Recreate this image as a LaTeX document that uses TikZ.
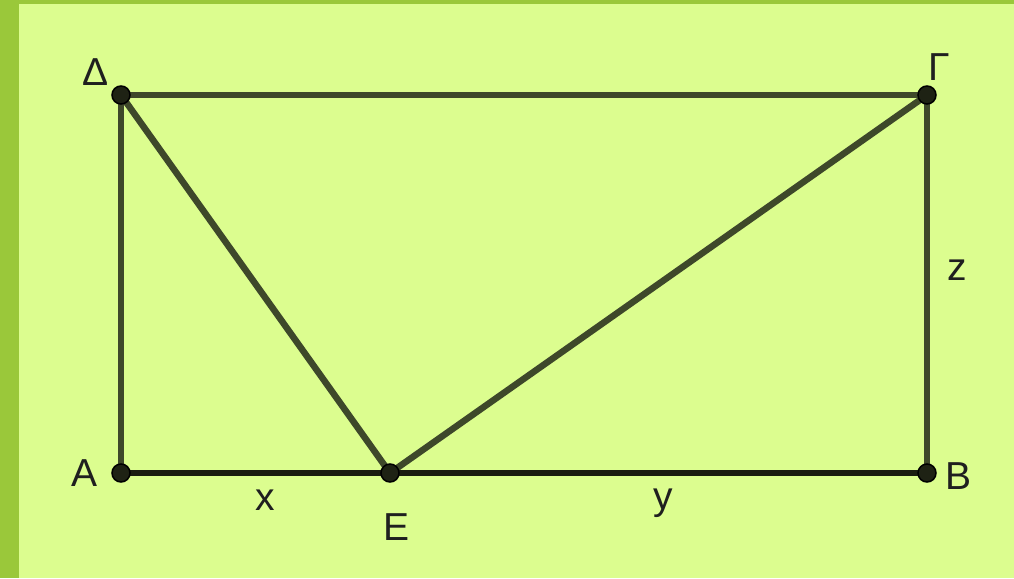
\documentclass[tikz,border=0pt]{standalone}
\usepackage{fontspec}
\setmainfont{Liberation Sans}
\definecolor{bgc}{RGB}{220,253,143}
\definecolor{frame}{RGB}{154,200,58}
\definecolor{seg}{RGB}{62,72,42}
\definecolor{base}{RGB}{26,28,16}
\definecolor{ptc}{RGB}{30,34,20}
\begin{document}
\begin{tikzpicture}[x=1pt,y=-1pt,
  seg/.style={draw=seg,line width=6.5pt},
  baseseg/.style={draw=base,line width=6.5pt},
  pt/.style={circle,fill=ptc,draw=black,line width=1.5pt,minimum size=18pt,inner sep=0pt},
  lab/.style={font=\fontsize{39}{41}\selectfont,text=black!88,inner sep=0pt}]
\useasboundingbox (0,0) rectangle (1014,578);
\fill[bgc] (0,0) rectangle (1014,578);
\fill[frame] (0,0) rectangle (19,578);
\fill[frame] (0,0) rectangle (1014,4);
\coordinate (A) at (121,473);
\coordinate (E) at (390,473);
\coordinate (B) at (927,473);
\coordinate (D) at (121,95);
\coordinate (G) at (927,95);
\draw[seg] (D) -- (G);
\draw[seg] (D) -- (A);
\draw[seg] (G) -- (B);
\draw[seg] (D) -- (E);
\draw[seg] (G) -- (E);
\draw[baseseg] (A) -- (B);
\node[pt] (pA) at (A) {};
\node[pt] (pE) at (E) {};
\node[pt] (pB) at (B) {};
\node[pt] (pD) at (D) {};
\node[pt] (pG) at (G) {};
\node[lab] (lD) at (96,72) {Δ};
\node[lab] (lG) at (939,67) {Γ};
\node[lab] (lA) at (85,473) {A};
\node[lab] (lB) at (958,476) {B};
\node[lab] (lE) at (397,527) {E};
\node[lab] (lx) at (265,500) {x};
\node[lab] (ly) at (663,503) {y};
\node[lab] (lz) at (957,270) {z};
\end{tikzpicture}
\end{document}
